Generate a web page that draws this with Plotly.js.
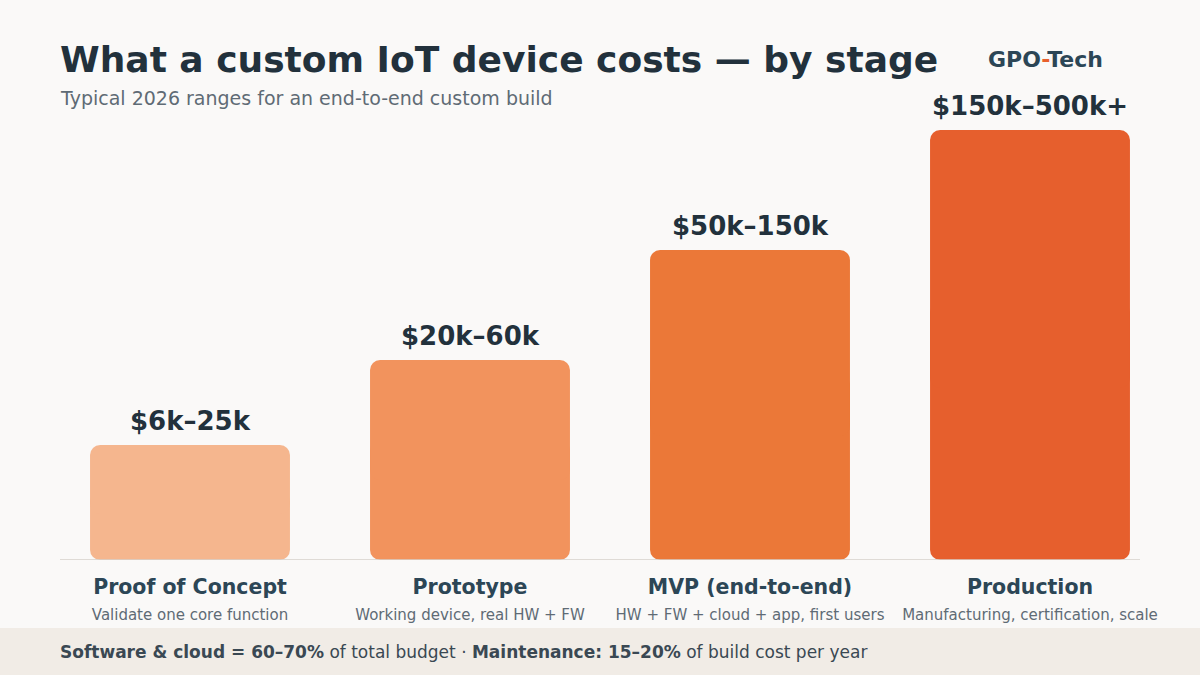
<!DOCTYPE html>
<html>
<head>
<meta charset="utf-8">
<script src="https://cdn.plot.ly/plotly-3.0.1.min.js"></script>
<style>
  html, body { margin: 0; padding: 0; background: #FAF9F8; }
  #chart { width: 1200px; height: 675px; }
</style>
</head>
<body>
<div id="chart"></div>
<script>
// Build stages, their cost ranges and descriptions
const stages = ["Proof of Concept", "Prototype", "MVP (end-to-end)", "Production"];
const costRanges = ["$6k–25k", "$20k–60k", "$50k–150k", "$150k–500k+"];
const descriptions = [
  "Validate one core function",
  "Working device, real HW + FW",
  "HW + FW + cloud + app, first users",
  "Manufacturing, certification, scale"
];
// Relative cost level of each stage (bar height)
const costLevel = [1.15, 2.0, 3.1, 4.3];
const barColors = ["#F5B68E", "#F2935D", "#EB7838", "#E65F2D"];

// Page geometry (pixels)
const W = 1200, H = 675;
const M = { l: 50, r: 30, t: 110, b: 115 };
const plotW = W - M.l - M.r, plotH = H - M.t - M.b;
const px = x => (x - M.l) / plotW;           // pixel x -> paper x
const py = y => (H - M.b - y) / plotH;       // pixel y -> paper y

const FONT = "DejaVu Sans, Verdana, sans-serif";
const DARK = "#22313C", SLATE = "#2C4656", MUTED = "#5F6B75";

// Each bar is drawn as two overlapping halves so all four corners are rounded
const lower = {
  type: "bar", x: stages,
  base: costLevel.map(v => v * 0.6), y: costLevel.map(v => -v * 0.6),
  width: 0.714,
  marker: { color: barColors, cornerradius: 10, line: { width: 0 } },
  hoverinfo: "skip", showlegend: false
};
const upper = {
  type: "bar", x: stages,
  base: costLevel.map(v => v * 0.4), y: costLevel.map(v => v * 0.6),
  width: 0.714,
  marker: { color: barColors, cornerradius: 10, line: { width: 0 } },
  hoverinfo: "skip", showlegend: false
};

const tickText = stages.map((s, i) =>
  "<b>" + s + "</b><br><span style='font-size:15px;color:" + MUTED + ";font-weight:normal'>" +
  descriptions[i] + "</span>");

const annotations = costRanges.map((t, i) => ({
  x: stages[i], y: costLevel[i], xref: "x", yref: "y",
  text: "<b>" + t + "</b>", showarrow: false,
  yanchor: "bottom", yshift: 7,
  font: { family: FONT, size: 26, color: DARK }
}));

annotations.push(
  {
    xref: "paper", yref: "paper", x: px(58), y: py(98),
    xanchor: "left", yanchor: "middle", showarrow: false,
    text: "Typical 2026 ranges for an end-to-end custom build",
    font: { family: FONT, size: 19, color: MUTED }
  },
  {
    xref: "paper", yref: "paper", x: px(1045), y: py(59),
    xanchor: "center", yanchor: "middle", showarrow: false,
    text: "<b>GPO<span style='color:#E8602C'>-</span>Tech</b>",
    font: { family: FONT, size: 22, color: SLATE }
  },
  {
    xref: "paper", yref: "paper", x: px(58), y: py(652),
    xanchor: "left", yanchor: "middle", showarrow: false,
    text: "<b>Software &amp; cloud = 60–70%</b> of total budget · <b>Maintenance: 15–20%</b> of build cost per year",
    font: { family: FONT, size: 17, color: "#3A4853" }
  }
);

const shapes = [
  // footer band
  { type: "rect", xref: "paper", yref: "paper", layer: "below",
    x0: px(0), x1: px(W), y0: py(H), y1: py(628),
    fillcolor: "#F1ECE6", line: { width: 0 } },
  // baseline
  { type: "line", xref: "paper", yref: "y",
    x0: px(60), x1: px(1140), y0: 0, y1: 0,
    line: { color: "#D6D1CB", width: 1.5 } }
];

const layout = {
  width: W, height: H,
  margin: M,
  paper_bgcolor: "#FAF9F8", plot_bgcolor: "rgba(0,0,0,0)",
  barmode: "overlay",
  title: {
    text: "<b>What a custom IoT device costs — by stage</b>",
    xref: "container", yref: "container",
    x: 60 / W, xanchor: "left",
    y: 1 - 59 / H, yanchor: "middle",
    font: { family: FONT, size: 36, color: DARK }
  },
  xaxis: {
    range: [-0.5, 3.5], fixedrange: true,
    tickvals: stages, ticktext: tickText,
    ticks: "", showline: false, showgrid: false, zeroline: false,
    tickfont: { family: FONT, size: 20.5, color: SLATE },
    ticklabelstandoff: 12
  },
  yaxis: { range: [0, 4.5], visible: false, fixedrange: true },
  annotations: annotations,
  shapes: shapes
};

Plotly.newPlot("chart", [lower, upper], layout, { displayModeBar: false, staticPlot: true });
</script>
</body>
</html>
